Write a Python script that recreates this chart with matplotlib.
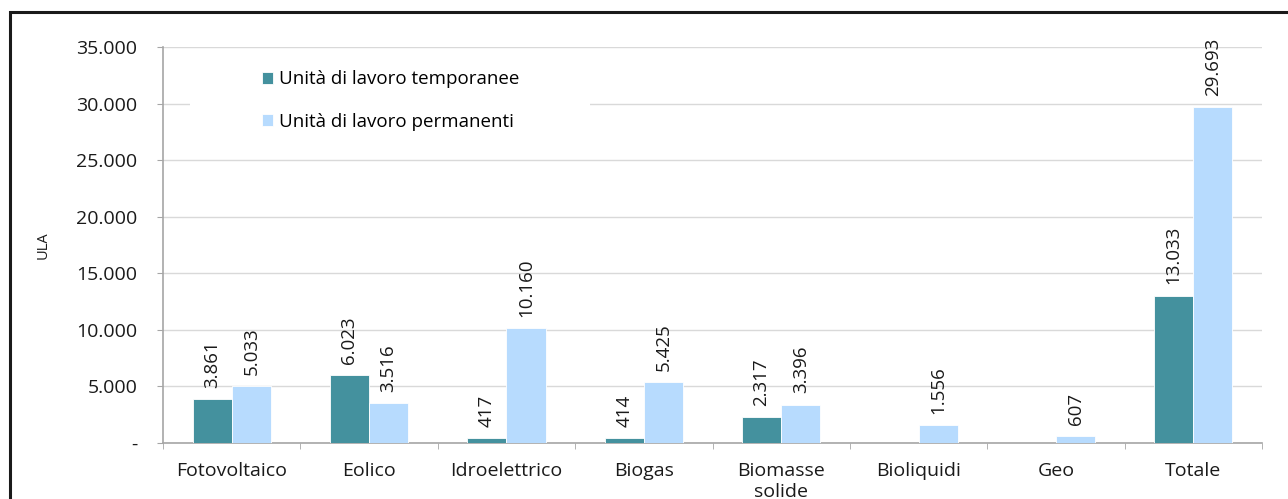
import numpy as np
import matplotlib
matplotlib.use('Agg')
from matplotlib import pyplot as plt
from matplotlib.patches import Rectangle
from matplotlib.ticker import FuncFormatter, MultipleLocator

categories = ['Fotovoltaico', 'Eolico', 'Idroelettrico', 'Biogas',
              'Biomasse\nsolide', 'Bioliquidi', 'Geo', 'Totale']
temporanee = [3861, 6023, 417, 414, 2317, None, None, 13033]
permanenti = [5033, 3516, 10160, 5425, 3396, 1556, 607, 29693]
series_names = ['Unità di lavoro temporanee', 'Unità di lavoro permanenti']

c_temp = '#44919e'
c_perm = '#b7dbfe'
grid_c = '#d9d9d9'
spine_c = '#a6a6a6'
fs = 13.5

plt.rcParams['font.family'] = ['Open Sans', 'DejaVu Sans']


def fmt(v):
    return f'{int(round(v)):,}'.replace(',', '.')


W, H = 1288, 499
fig = plt.figure(figsize=(W / 100, H / 100), dpi=100)
ax = fig.add_axes([163 / W, 1 - 443 / H, (1262 - 163) / W, (443 - 47) / H])

x = np.arange(len(categories))
w = 0.285
t_vals = np.array([np.nan if v is None else v for v in temporanee], dtype=float)
p_vals = np.array(permanenti, dtype=float)
ax.bar(x - w / 2, np.nan_to_num(t_vals), w, color=c_temp, edgecolor='white',
       linewidth=0.6, label=series_names[0], zorder=3)
ax.bar(x + w / 2, p_vals, w, color=c_perm, edgecolor='white',
       linewidth=0.6, label=series_names[1], zorder=3)

for xi, v in zip(x - w / 2, t_vals):
    if not np.isnan(v):
        ax.annotate(fmt(v), (xi, v), xytext=(0, 8), textcoords='offset points',
                    rotation=90, ha='center', va='bottom', fontsize=fs, color='#1a1a1a')
for xi, v in zip(x + w / 2, p_vals):
    ax.annotate(fmt(v), (xi, v), xytext=(0, 8), textcoords='offset points',
                rotation=90, ha='center', va='bottom', fontsize=fs, color='#1a1a1a')

ax.set_xlim(-0.5, len(categories) - 0.5)
ax.set_ylim(0, 35000)
ax.yaxis.set_major_locator(MultipleLocator(5000))
ax.yaxis.set_major_formatter(FuncFormatter(lambda v, p: '-' if v == 0 else fmt(v)))
ax.set_xticks(x)
ax.set_xticklabels(categories, fontsize=14, va='top', color='#1a1a1a')
ax.set_xticks(np.arange(len(categories) + 1) - 0.5, minor=True)
ax.tick_params(axis='x', which='major', length=0, pad=14)
ax.tick_params(axis='x', which='minor', length=4.5, color=spine_c, direction='out')
ax.tick_params(axis='y', length=4.5, color=spine_c, labelsize=14, pad=14,
               labelcolor='#1a1a1a')
ax.grid(axis='y', color=grid_c, linewidth=1, zorder=0)
ax.set_axisbelow(True)
for s in ['top', 'right']:
    ax.spines[s].set_visible(False)
for s in ['left', 'bottom']:
    ax.spines[s].set_color(spine_c)
    ax.spines[s].set_linewidth(1.2)
ax.set_ylabel('ULA', fontsize=10.5, labelpad=18, color='#1a1a1a')

# white area behind the legend, hiding the gridline like in the original
ax.add_patch(Rectangle((190 / W, 1 - 140 / H), 400 / W, 83 / H,
                       transform=fig.transFigure, facecolor='white',
                       edgecolor='none', zorder=1, clip_on=False))

leg = ax.legend(loc='upper left', bbox_to_anchor=(0.077, 0.977), frameon=False,
                handlelength=0.6, handleheight=0.6, handletextpad=0.35,
                labelspacing=1.32, fontsize=fs, borderpad=0.75, borderaxespad=0)
leg.set_zorder(5)

fig.patches.append(Rectangle((10 / W, -0.2), 1.2, 1 - 12 / H + 0.2,
                             transform=fig.transFigure, fill=False,
                             edgecolor='#1a1a1a', linewidth=2.2, zorder=10))

fig.savefig('out.png', dpi=100)
